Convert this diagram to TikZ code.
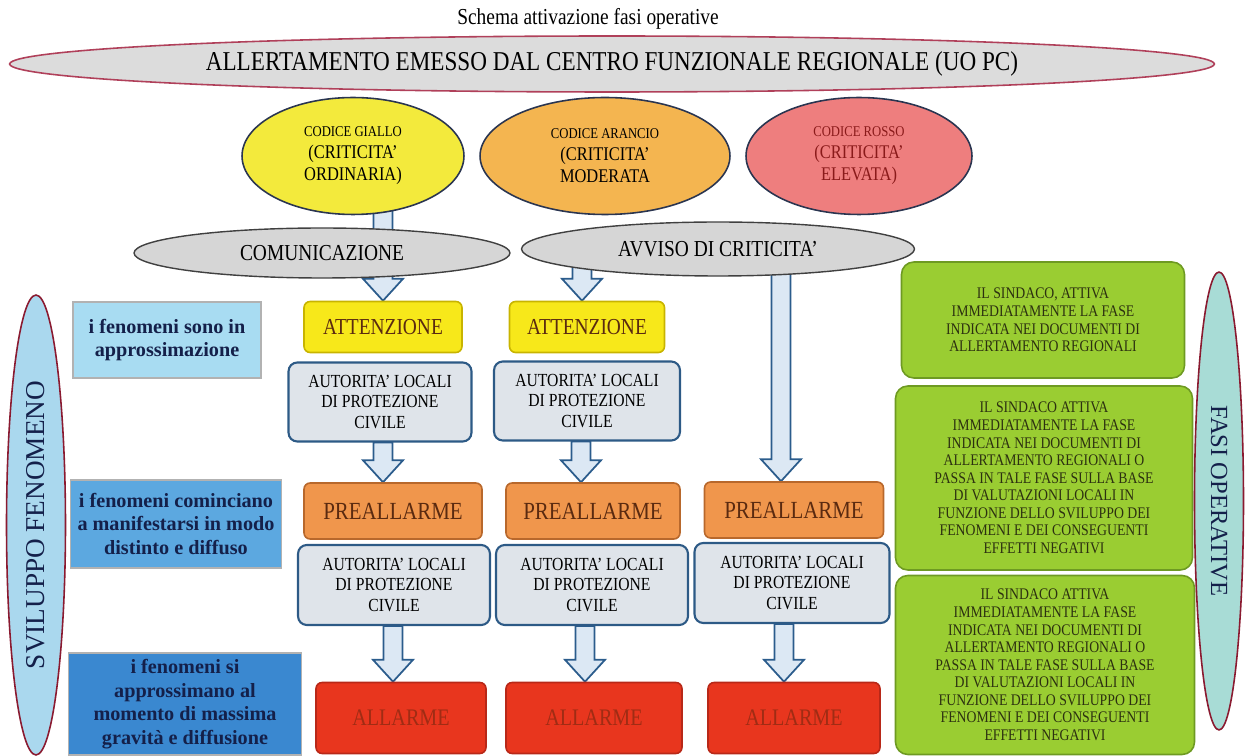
\documentclass[tikz,border=0pt]{standalone}
\usepackage{fontspec}
\setmainfont{Liberation Serif}
\newfontfamily\condfont[FakeStretch=0.85,Ligatures=TeX]{Liberation Serif}
\usetikzlibrary{shapes.geometric,calc}

\definecolor{bigfill}{HTML}{DCDCDC}
\definecolor{bigline}{HTML}{B0405A}
\definecolor{giallo}{HTML}{F3EA3C}
\definecolor{arancio}{HTML}{F4B550}
\definecolor{rosso}{HTML}{EE7E7E}
\definecolor{codline}{HTML}{2A3550}
\definecolor{rossotext}{HTML}{8A1A1A}
\definecolor{ovalgray}{HTML}{D6D6D6}
\definecolor{attfill}{HTML}{F7E81A}
\definecolor{attline}{HTML}{C8B400}
\definecolor{autfill}{HTML}{DFE4EA}
\definecolor{autline}{HTML}{2D5A86}
\definecolor{prefill}{HTML}{F0964C}
\definecolor{preline}{HTML}{B8682C}
\definecolor{pretext}{HTML}{5A2A10}
\definecolor{allfill}{HTML}{E8361E}
\definecolor{allline}{HTML}{B82818}
\definecolor{alltext}{HTML}{A02C14}
\definecolor{blueA}{HTML}{A8DCF2}
\definecolor{blueB}{HTML}{5CA8E0}
\definecolor{blueC}{HTML}{3A88D0}
\definecolor{navytext}{HTML}{14204A}
\definecolor{verde}{HTML}{9ACD32}
\definecolor{verdeline}{HTML}{6E9A22}
\definecolor{verdetext}{HTML}{2C3010}
\definecolor{svilfill}{HTML}{AAD8EE}
\definecolor{fasifill}{HTML}{A8DCD6}
\definecolor{ovalred}{HTML}{8A1A30}
\definecolor{arrowfill}{HTML}{DCE8F4}
\definecolor{arrowline}{HTML}{2B5C8C}

\pgfdeclarelayer{bg}
\pgfsetlayers{bg,main}

% block arrow: column x (px), from node, to anchor
\newcommand{\bigarrow}[3]{%
  \draw[barrow] let \p1=(#1,0), \p2=(#2), \p3=(#3) in
    (\x1-5.4pt,\y2) -- (\x1-5.4pt,\y3+12.5pt) -- (\x1-11.4pt,\y3+12.5pt)
    -- (\x1,\y3) -- (\x1+11.4pt,\y3+12.5pt) -- (\x1+5.4pt,\y3+12.5pt)
    -- (\x1+5.4pt,\y2) -- cycle;}

\begin{document}
\begin{tikzpicture}[
x=0.02cm, y=-0.02cm,
oval/.style={ellipse, draw, line width=0.9pt, inner sep=0pt},
codice/.style={oval, draw=codline, minimum width=4.44cm, minimum height=2.34cm,
    align=center, font=\condfont\fontsize{11}{12.5}\selectfont},
msg/.style={oval, fill=ovalgray, draw=black!75, line width=0.8pt,
    font=\condfont\fontsize{13}{15}\selectfont},
fasebox/.style={draw, rounded corners=3.5pt, line width=0.9pt, align=center, inner sep=0pt},
attbox/.style={fasebox, fill=attfill, draw=attline, text=pretext,
    minimum height=1.02cm, font=\condfont\fontsize{13}{15}\selectfont},
autbox/.style={fasebox, fill=autfill, draw=autline, line width=1.2pt, rounded corners=5pt,
    minimum height=1.58cm, font=\condfont\fontsize{10.5}{11.5}\selectfont},
prebox/.style={fasebox, fill=prefill, draw=preline, text=pretext,
    minimum height=1.12cm, font=\condfont\fontsize{14}{16}\selectfont},
allbox/.style={fasebox, fill=allfill, draw=allline, text=alltext,
    minimum height=1.42cm, font=\condfont\fontsize{13.5}{15}\selectfont},
infobox/.style={draw=black!30, line width=0.6pt, align=center, inner sep=0pt, text=navytext,
    font=\bfseries\fontsize{11.5}{13.5}\selectfont},
sindaco/.style={fasebox, fill=verde, draw=verdeline, rounded corners=7pt, text=verdetext,
    font=\condfont\fontsize{9.2}{10}\selectfont},
barrow/.style={fill=arrowfill, draw=arrowline, line width=1pt, line join=miter}
]
\useasboundingbox (0,0) rectangle (1245,756);

%---------------- Allertamento ----------------
\node[font=\condfont\fontsize{13}{15}\selectfont] (titolo) at (588,19) {Schema attivazione fasi operative};
\node[oval, fill=bigfill, draw=bigline, minimum width=24.1cm, minimum height=1.12cm,
    font=\condfont\fontsize{15.5}{18}\selectfont] (cfr) at (612,64)
    {ALLERTAMENTO EMESSO DAL CENTRO FUNZIONALE REGIONALE (UO PC)};

\node[codice, fill=giallo] (giallo) at (353,156)
    {{\fontsize{8.5}{10}\selectfont CODICE GIALLO}\\(CRITICITA'\\ORDINARIA)};
\node[codice, fill=arancio, minimum width=5cm] (arancio) at (605,156)
    {{\fontsize{8.5}{10}\selectfont CODICE ARANCIO}\\(CRITICITA'\\MODERATA};
\node[codice, fill=rosso, minimum width=4.52cm, text=rossotext] (rosso) at (859,156)
    {{\fontsize{8.5}{10}\selectfont CODICE ROSSO}\\(CRITICITA'\\ELEVATA)};

\node[msg, minimum width=7.52cm, minimum height=1cm] (comunic) at (322,253) {COMUNICAZIONE};
\node[msg, minimum width=7.86cm, minimum height=1.08cm] (avviso) at (718,249) {AVVISO DI CRITICITA'};

%---------------- Fasi ----------------
\node[attbox, minimum width=3.16cm] (att1) at (383,327) {ATTENZIONE};
\node[attbox, minimum width=3.1cm] (att2) at (587,327) {ATTENZIONE};

\node[autbox, minimum width=3.66cm] (aut1) at (380,402) {AUTORITA' LOCALI\\DI PROTEZIONE\\CIVILE};
\node[autbox, minimum width=3.72cm] (aut2) at (587,401) {AUTORITA' LOCALI\\DI PROTEZIONE\\CIVILE};

\node[prebox, minimum width=3.56cm] (pre1) at (393,511) {PREALLARME};
\node[prebox, minimum width=3.48cm] (pre2) at (593,511) {PREALLARME};
\node[prebox, minimum width=3.58cm] (pre3) at (794,510) {PREALLARME};

\node[autbox, minimum width=3.84cm, minimum height=1.6cm] (autb1) at (394,585) {AUTORITA' LOCALI\\DI PROTEZIONE\\CIVILE};
\node[autbox, minimum width=3.84cm, minimum height=1.6cm] (autb2) at (592,585) {AUTORITA' LOCALI\\DI PROTEZIONE\\CIVILE};
\node[autbox, minimum width=3.9cm, minimum height=1.6cm] (autb3) at (792,583) {AUTORITA' LOCALI\\DI PROTEZIONE\\CIVILE};

\node[allbox, minimum width=3.4cm] (all1) at (401,718) {ALLARME};
\node[allbox, minimum width=3.52cm] (all2) at (594,718) {ALLARME};
\node[allbox, minimum width=3.44cm] (all3) at (794,718) {ALLARME};

\begin{pgfonlayer}{bg}
\bigarrow{383}{giallo}{att1.north}
\bigarrow{582}{avviso}{att2.north}
\bigarrow{781}{avviso}{pre3.north}
\bigarrow{383}{aut1.south}{pre1.north}
\bigarrow{581}{aut2.south}{pre2.north}
\bigarrow{393}{autb1.south}{all1.north}
\bigarrow{585}{autb2.south}{all2.north}
\bigarrow{784}{autb3.south}{all3.north}
\end{pgfonlayer}

%---------------- Sviluppo fenomeno ----------------
\node[oval, rotate=90, fill=svilfill, draw=ovalred, minimum width=9.2cm, minimum height=1.18cm,
    text=navytext, font=\fontsize{15.5}{18}\selectfont] (svil) at (36,525) {SVILUPPO FENOMENO};

\node[infobox, fill=blueA, minimum width=3.76cm, minimum height=1.52cm] (feno1) at (167,340)
    {i fenomeni sono in\\approssimazione};
\node[infobox, fill=blueB, minimum width=4.22cm, minimum height=1.76cm] (feno2) at (176,524)
    {i fenomeni cominciano\\a manifestarsi in modo\\distinto e diffuso};
\node[infobox, fill=blueC, minimum width=4.66cm, minimum height=2.04cm] (feno3) at (185,704)
    {i fenomeni si\\approssimano al\\momento di massima\\gravità e diffusione};

%---------------- Fasi operative ----------------
\node[sindaco, minimum width=5.66cm, minimum height=2.32cm] (sind1) at (1043,320)
    {IL SINDACO, ATTIVA\\IMMEDIATAMENTE LA FASE\\INDICATA NEI DOCUMENTI DI\\ALLERTAMENTO REGIONALI};
\node[sindaco, minimum width=5.94cm, minimum height=3.68cm] (sind2) at (1044,478)
    {IL SINDACO ATTIVA\\IMMEDIATAMENTE LA FASE\\INDICATA NEI DOCUMENTI DI\\ALLERTAMENTO REGIONALI O\\PASSA IN TALE FASE SULLA BASE\\DI VALUTAZIONI LOCALI IN\\FUNZIONE DELLO SVILUPPO DEI\\FENOMENI E DEI CONSEGUENTI\\EFFETTI NEGATIVI};
\node[sindaco, minimum width=5.98cm, minimum height=3.58cm] (sind3) at (1045,665)
    {IL SINDACO ATTIVA\\IMMEDIATAMENTE LA FASE\\INDICATA NEI DOCUMENTI DI\\ALLERTAMENTO REGIONALI O\\PASSA IN TALE FASE SULLA BASE\\DI VALUTAZIONI LOCALI IN\\FUNZIONE DELLO SVILUPPO DEI\\FENOMENI E DEI CONSEGUENTI\\EFFETTI NEGATIVI};

\node[oval, rotate=-90, fill=fasifill, draw=ovalred, minimum width=9.16cm, minimum height=0.98cm,
    text=navytext, font=\fontsize{14}{16}\selectfont] (fasi) at (1219,501) {FASI OPERATIVE};

\end{tikzpicture}
\end{document}
